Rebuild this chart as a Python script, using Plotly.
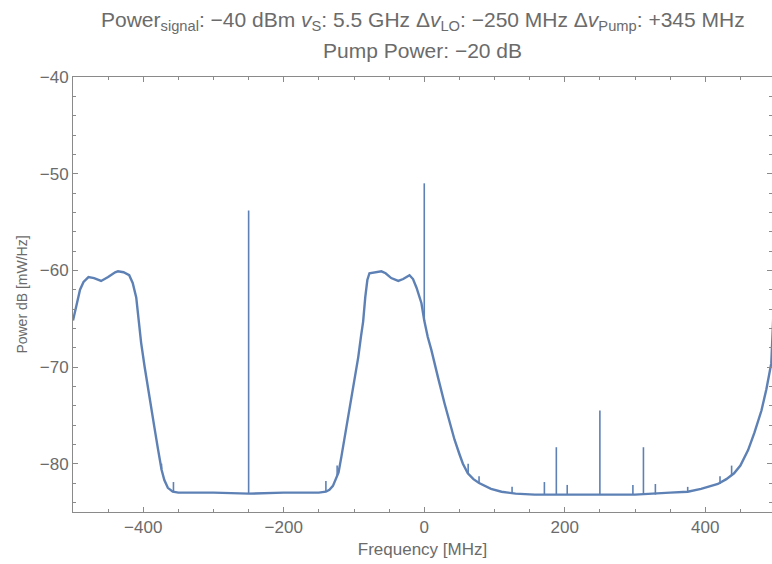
import plotly.graph_objects as go

# Base spectrum (frequency MHz, power dB)
freq = [-500, -495, -490, -485, -478, -470, -460, -450, -440, -436, -428, -420, -415, -410,
        -406, -403, -398, -393, -388, -384, -379, -374, -370, -365, -358, -350, -300, -250,
        -200, -150, -140, -135, -130, -126, -122, -118, -114, -109, -104, -99, -94, -90, -87,
        -84, -81, -78, -70, -61, -55, -47, -37, -30, -21, -16, -11, -7, -4, 0, 5, 10, 14, 20,
        29, 36, 43, 50, 55, 62, 70, 78, 95, 110, 130, 157, 200, 250, 300, 350, 375, 394, 410,
        418, 430, 441, 450, 461, 470, 480, 487, 494, 497, 500]
power = [-65.2, -63.5, -62.0, -61.2, -60.7, -60.8, -61.1, -60.7, -60.2, -60.1, -60.2, -60.5,
         -61.3, -62.8, -65.5, -67.5, -70.0, -72.4, -74.6, -76.3, -78.5, -80.6, -81.7, -82.5,
         -82.9, -83.0, -83.0, -83.1, -83.0, -83.0, -82.9, -82.7, -82.3, -81.6, -80.9, -79.3,
         -77.6, -75.6, -73.5, -71.2, -69.0, -66.8, -65.3, -62.8, -61.0, -60.3, -60.2, -60.1,
         -60.3, -60.8, -61.1, -60.9, -60.5, -60.9, -61.8, -62.6, -63.4, -65.2, -66.9, -68.2,
         -69.3, -71.2, -73.8, -75.8, -77.5, -79.0, -80.0, -81.0, -81.6, -82.0, -82.6, -82.9,
         -83.1, -83.2, -83.2, -83.2, -83.2, -83.0, -82.9, -82.6, -82.3, -82.1, -81.6, -81.0,
         -80.2, -78.6, -76.8, -74.5, -72.3, -69.6, -64.5, -63.0]

# Narrow spurs: frequency, base level, peak level
spur_freq = [-374, -357, -250, -140, -124, 0, 62.5, 78, 125, 171, 188, 203.5, 250, 297, 312,
             329, 375, 421, 437.5]
spur_base = [-80.6, -82.9, -83.1, -82.9, -81.3, -65.2, -81.0, -82.0, -83.1, -83.2, -83.2,
             -83.2, -83.2, -83.2, -83.2, -83.2, -82.9, -82.1, -81.2]
spur_peak = [-80.0, -81.9, -53.8, -81.8, -80.2, -51.0, -80.0, -81.3, -82.4, -81.9, -78.3,
             -82.2, -74.5, -82.2, -78.3, -82.1, -82.4, -81.3, -80.2]

xticks = [-400, -200, 0, 200, 400]
yticks = [-80, -70, -60, -50, -40]

color = "#5E81B5"
axis_col = "#8a8a8a"
text_col = "#6b6b6b"
font = "Liberation Sans, Arial, sans-serif"

sx, sy = [], []
for f, b, p in zip(spur_freq, spur_base, spur_peak):
    sx += [f, f, None]
    sy += [b, p, None]

fig = go.Figure()
fig.add_trace(go.Scatter(x=freq, y=power, mode="lines",
                         line=dict(color=color, width=2.4), hoverinfo="skip"))
fig.add_trace(go.Scatter(x=sx, y=sy, mode="lines",
                         line=dict(color=color, width=1.6), hoverinfo="skip"))

fig.update_layout(
    width=772, height=564,
    margin=dict(l=73, r=0, t=77, b=52),
    paper_bgcolor="white", plot_bgcolor="white",
    showlegend=False,
    font=dict(family=font, color=text_col, size=17),
    xaxis=dict(range=[-500, 495], tickvals=xticks, ticks="inside", ticklen=5,
               tickcolor=axis_col, showline=True, linecolor=axis_col, linewidth=1,
               mirror="ticks", showgrid=False, zeroline=False,
               tickfont=dict(size=17, color=text_col),
               minor=dict(dtick=50, tick0=0, ticks="inside", ticklen=3, tickcolor=axis_col),
               title=dict(text="Frequency [MHz]", font=dict(size=17, color=text_col),
                          standoff=6)),
    yaxis=dict(range=[-85, -40], tickvals=yticks, ticks="inside", ticklen=5,
               tickcolor=axis_col, showline=True, linecolor=axis_col, linewidth=1,
               mirror="ticks", showgrid=False, zeroline=False,
               tickfont=dict(size=17, color=text_col),
               minor=dict(dtick=2, tick0=0, ticks="inside", ticklen=3, tickcolor=axis_col),
               title=dict(text="Power dB [mW/Hz]", font=dict(size=14, color=text_col),
                          standoff=8)),
)

fig.add_annotation(
    text="Power<sub>signal</sub>: −40 dBm <i>v</i><sub>S</sub>: 5.5 GHz Δ<i>v</i><sub>LO</sub>: −250 MHz Δ<i>v</i><sub>Pump</sub>: +345 MHz",
    xref="paper", yref="paper", x=0.5, y=1.0, yshift=56, xanchor="center", yanchor="middle",
    showarrow=False, font=dict(size=21, color=text_col, family=font))
fig.add_annotation(
    text="Pump Power: −20 dB",
    xref="paper", yref="paper", x=0.5, y=1.0, yshift=27, xanchor="center", yanchor="middle",
    showarrow=False, font=dict(size=21, color=text_col, family=font))

fig.write_html("out.html")
